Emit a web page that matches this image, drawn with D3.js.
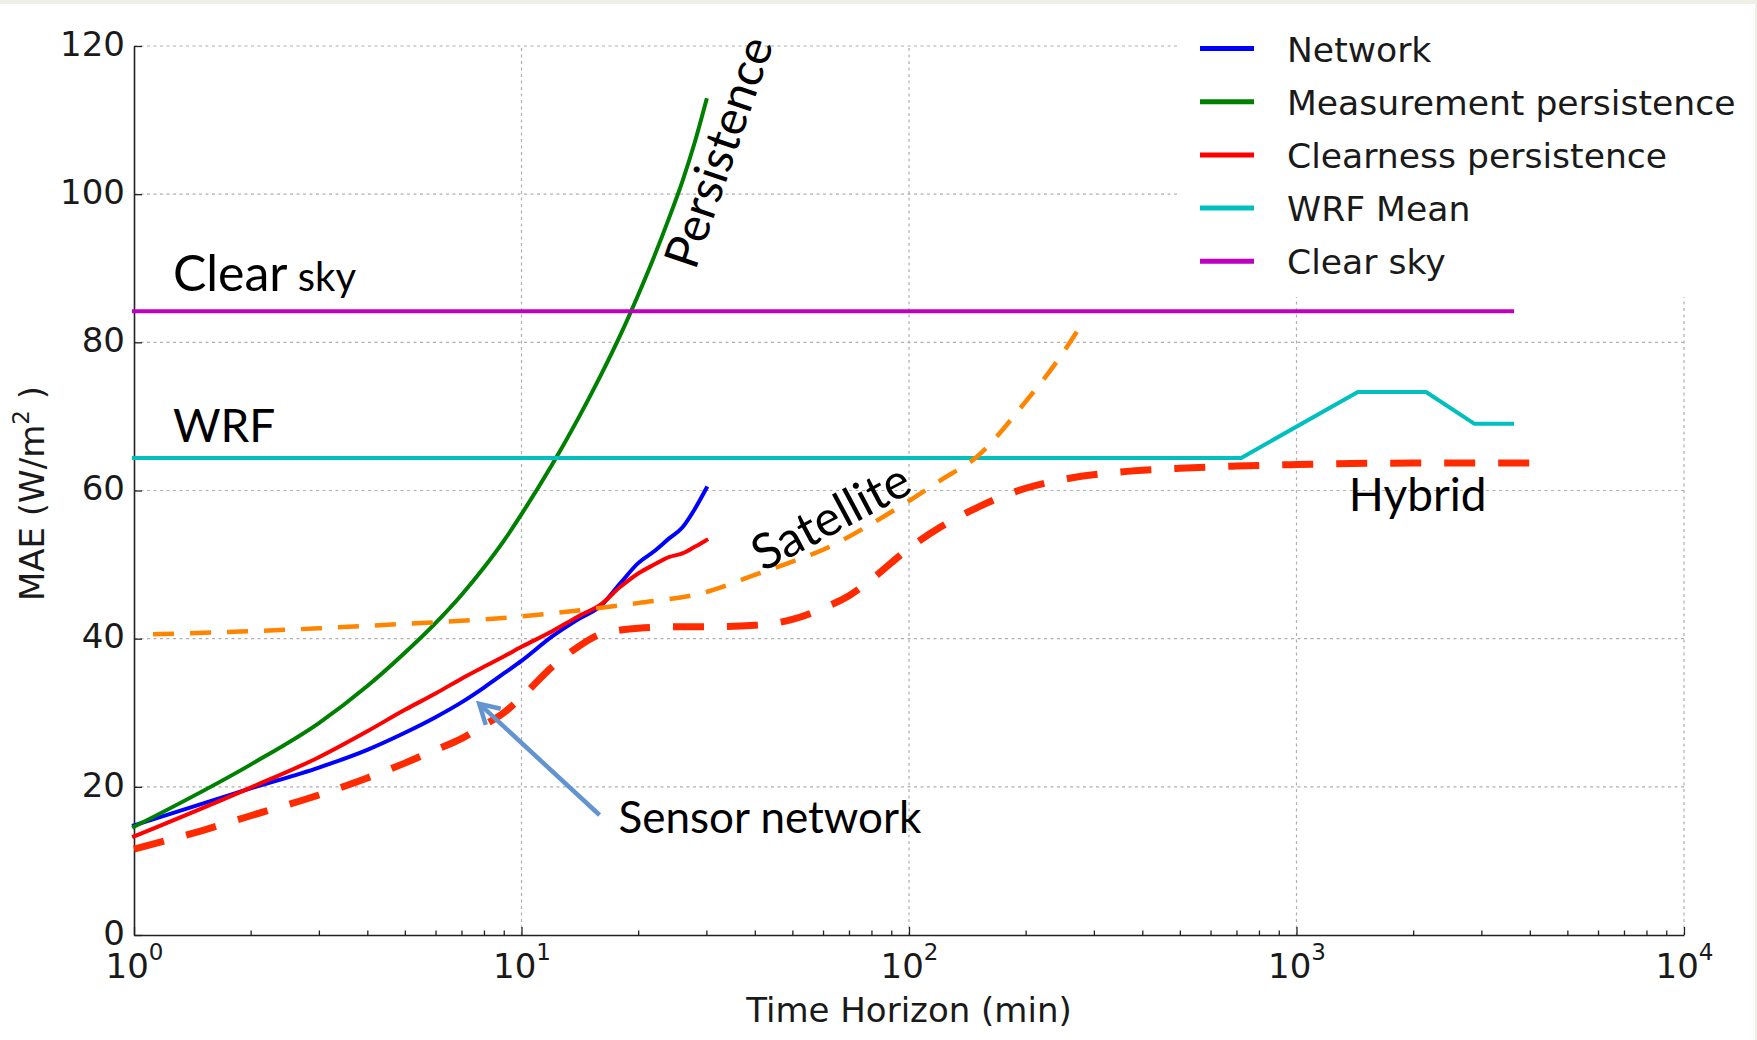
<!DOCTYPE html>
<html>
<head>
<meta charset="utf-8">
<script src="https://cdn.jsdelivr.net/npm/d3@7"></script>
<style>
  html, body { margin: 0; padding: 0; background: #efeee7; }
  svg { display: block; }
</style>
</head>
<body>
<div id="chart"></div>
<script>
// Forecast horizon (min) and MAE (W/m2)
const shortHorizons = [1, 2, 3, 4, 5, 6, 7, 8, 9, 10, 12, 14, 16, 18, 20, 22, 24, 26, 28, 30];
const networkMae = [14.8, 19.8, 22.6, 25.0, 27.3, 29.4, 31.4, 33.4, 35.3, 37.0, 40.3, 42.6, 44.4, 47.5, 50.2, 51.8, 53.5, 55.0, 57.5, 60.3];
const measurementMae = [14.6, 23.0, 28.6, 33.6, 38.1, 42.1, 45.9, 49.6, 53.2, 56.8, 63.5, 69.7, 75.5, 81.0, 86.4, 91.6, 96.7, 101.7, 107.0, 112.7];
const clearnessMae = [13.3, 19.9, 24.0, 27.5, 30.4, 32.6, 34.6, 36.2, 37.6, 38.9, 41.0, 43.0, 44.6, 47.0, 48.8, 50.0, 51.0, 51.5, 52.4, 53.3];

const wrfHorizons = [1, 720, 1440, 2160, 2880, 3600];
const wrfMae = [64.4, 64.4, 73.3, 73.3, 69.0, 69.0];

const clearSkyHorizons = [1, 3600];
const clearSkyMae = [84.2, 84.2];

const satelliteHorizons = [1.12, 2, 3, 5, 8, 10, 15, 20, 30, 40, 50, 60, 80, 100, 120, 150, 200, 240, 277];
const satelliteMae = [40.6, 41.0, 41.4, 42.0, 42.6, 43.0, 44.0, 44.8, 46.3, 48.6, 50.4, 52.0, 55.5, 58.6, 61.3, 64.6, 72.0, 77.3, 82.2];

const hybridHorizons = [1, 1.5, 2, 3, 4, 5, 6, 7, 8, 9, 10, 12, 14, 16, 20, 25, 30, 40, 50, 60, 70, 80, 100, 120, 150, 200, 250, 350, 500, 700, 1000, 2000, 4000];
const hybridMae = [11.6, 14.1, 16.1, 18.9, 21.2, 23.2, 25.0, 26.5, 28.3, 30.0, 32.1, 36.2, 38.9, 40.6, 41.4, 41.6, 41.6, 41.8, 42.6, 44.1, 45.8, 48.0, 52.2, 55.0, 57.7, 60.3, 61.5, 62.5, 63.0, 63.3, 63.5, 63.7, 63.7];

const legendLabels = ["Network", "Measurement persistence", "Clearness persistence", "WRF Mean", "Clear sky"];
const xTickExponents = [0, 1, 2, 3, 4];
const yTicks = [0, 20, 40, 60, 80, 100, 120];

const width = 1757;
const height = 1040;
const tickFont = "'DejaVu Sans', sans-serif";
const noteFont = "Lato, 'Open Sans', sans-serif";

const x = d3.scaleLog().domain([1, 1e4]).range([134, 1684]);
const y = d3.scaleLinear().domain([0, 120]).range([935, 46]);

const svg = d3.select("#chart")
  .append("svg")
  .attr("width", width)
  .attr("height", height);

svg.append("rect")
  .attr("x", 0)
  .attr("y", 4)
  .attr("width", 1755)
  .attr("height", height - 4)
  .attr("fill", "#fff");

// dotted grid
const grid = svg.append("g")
  .attr("stroke", "#b0b0b0")
  .attr("stroke-width", 1.2)
  .attr("stroke-dasharray", "3,3.5");

grid.selectAll(".hgrid")
  .data(yTicks.slice(1))
  .join("line")
  .attr("class", "hgrid")
  .attr("x1", x(1))
  .attr("x2", x(1e4))
  .attr("y1", d => y(d))
  .attr("y2", d => y(d));

grid.selectAll(".vgrid")
  .data(xTickExponents.slice(1).map(e => 10 ** e))
  .join("line")
  .attr("class", "vgrid")
  .attr("x1", d => x(d))
  .attr("x2", d => x(d))
  .attr("y1", y(0))
  .attr("y2", y(120));

// legend sits on a white box that hides the grid behind it
svg.append("rect")
  .attr("x", 1177)
  .attr("y", 8)
  .attr("width", 1755 - 1177)
  .attr("height", 297 - 8)
  .attr("fill", "#fff");

// axes
const decades = xTickExponents.map(e => 10 ** e);
const minorTicks = [];
xTickExponents.slice(0, -1).forEach(e => {
  for (let m = 2; m < 10; m++) minorTicks.push(m * 10 ** e);
});

svg.append("g")
  .attr("transform", `translate(0,${y(0)})`)
  .call(d3.axisBottom(x).tickValues(minorTicks).tickSizeInner(-4.5).tickSizeOuter(0).tickFormat(() => ""))
  .call(g => g.select(".domain").remove())
  .call(g => g.selectAll(".tick line").attr("stroke", "#222").attr("stroke-width", 1.3));

const xAxisG = svg.append("g")
  .attr("transform", `translate(0,${y(0)})`)
  .call(d3.axisBottom(x).tickValues(decades).tickSizeInner(-8).tickSizeOuter(0).tickFormat(() => ""))
  .attr("font-family", tickFont)
  .attr("font-size", 34);

xAxisG.select(".domain").attr("stroke", "#222").attr("stroke-width", 1.6);
xAxisG.selectAll(".tick line").attr("stroke", "#222").attr("stroke-width", 1.3);
xAxisG.selectAll(".tick text")
  .attr("y", 43)
  .attr("dy", null)
  .attr("fill", "#1a1a1a")
  .each(function (d) {
    const t = d3.select(this);
    t.append("tspan").text("10");
    t.append("tspan")
      .attr("dy", -18)
      .attr("font-size", 23)
      .text(Math.round(Math.log10(d)));
  });

const yAxisG = svg.append("g")
  .attr("transform", `translate(${x(1)},0)`)
  .call(d3.axisLeft(y).tickValues(yTicks).tickSizeInner(-8).tickSizeOuter(0).tickPadding(9))
  .attr("font-family", tickFont)
  .attr("font-size", 34);

yAxisG.select(".domain").attr("stroke", "#222").attr("stroke-width", 1.6);
yAxisG.selectAll(".tick line").attr("stroke", "#222").attr("stroke-width", 1.3);
yAxisG.selectAll(".tick text").attr("fill", "#1a1a1a").attr("dy", "0.27em");

// axis titles
svg.append("text")
  .attr("x", (x(1) + x(1e4)) / 2)
  .attr("y", 1022)
  .attr("text-anchor", "middle")
  .attr("font-family", tickFont)
  .attr("font-size", 34)
  .attr("fill", "#1a1a1a")
  .text("Time Horizon (min)");

const yTitle = svg.append("text")
  .attr("transform", `translate(44,${(y(0) + y(120)) / 2 + 3}) rotate(-90)`)
  .attr("text-anchor", "middle")
  .attr("font-family", tickFont)
  .attr("font-size", 34)
  .attr("fill", "#1a1a1a");
yTitle.append("tspan").text("MAE (W/m");
yTitle.append("tspan").attr("dy", -15).attr("font-size", 23).text("2");
yTitle.append("tspan").attr("dy", 15).text(" )");

// curves
const line = d3.line()
  .x(d => x(d[0]))
  .y(d => y(d[1]))
  .curve(d3.curveMonotoneX);

const straight = d3.line()
  .x(d => x(d[0]))
  .y(d => y(d[1]));

const series = [
  { xs: shortHorizons, ys: networkMae, color: "#0000ff", gen: line },
  { xs: shortHorizons, ys: measurementMae, color: "#008000", gen: line },
  { xs: shortHorizons, ys: clearnessMae, color: "#ff0000", gen: line },
  { xs: wrfHorizons, ys: wrfMae, color: "#00bfbf", gen: straight },
  { xs: clearSkyHorizons, ys: clearSkyMae, color: "#bf00bf", gen: straight }
];

svg.append("g")
  .selectAll("path")
  .data(series)
  .join("path")
  .attr("d", s => s.gen(d3.zip(s.xs, s.ys)))
  .attr("fill", "none")
  .attr("stroke", s => s.color)
  .attr("stroke-width", 4)
  .attr("stroke-linecap", "square")
  .attr("stroke-linejoin", "round");

// the two dashed overlays
svg.append("path")
  .attr("d", line(d3.zip(satelliteHorizons, satelliteMae)))
  .attr("fill", "none")
  .attr("stroke", "#ff8500")
  .attr("stroke-width", 4.5)
  .attr("stroke-dasharray", "21,16");

svg.append("path")
  .attr("d", line(d3.zip(hybridHorizons, hybridMae)))
  .attr("fill", "none")
  .attr("stroke", "#ff2a00")
  .attr("stroke-width", 7)
  .attr("stroke-dasharray", "31,23");

// legend
const legend = svg.append("g")
  .selectAll("g")
  .data(legendLabels)
  .join("g")
  .attr("transform", (d, i) => `translate(1200,${48.5 + i * 53.2})`);

legend.append("line")
  .attr("x1", 0)
  .attr("x2", 54)
  .attr("stroke", (d, i) => series[i].color)
  .attr("stroke-width", 5);

legend.append("text")
  .attr("x", 87)
  .attr("y", 13)
  .attr("font-family", tickFont)
  .attr("font-size", 34.6)
  .attr("fill", "#1a1a1a")
  .text(d => d);

// hand-written labels and the arrow
const notes = svg.append("g")
  .attr("font-family", noteFont)
  .attr("fill", "#000");

const clearSkyNote = notes.append("text")
  .attr("x", x(1.26))
  .attr("y", y(86.9));
clearSkyNote.append("tspan").attr("font-size", 50).text("Clear");
clearSkyNote.append("tspan").attr("font-size", 40).text(" sky");

notes.append("text")
  .attr("x", x(1.26))
  .attr("y", y(66.5))
  .attr("font-size", 46)
  .text("WRF");

notes.append("text")
  .attr("transform", `translate(${x(28.1)},${y(89.6)}) rotate(-71)`)
  .attr("font-size", 48)
  .text("Persistence");

notes.append("text")
  .attr("transform", `translate(${x(42)},${y(49)}) rotate(-28)`)
  .attr("font-size", 49)
  .text("Satellite");

notes.append("text")
  .attr("x", x(1365))
  .attr("y", y(57.3))
  .attr("font-size", 46)
  .text("Hybrid");

notes.append("text")
  .attr("x", x(17.8))
  .attr("y", y(13.8))
  .attr("font-size", 44)
  .text("Sensor network");

const tail = [x(15.9), y(16.2)];
const tip = [x(7.78), y(31.2)];
const ang = Math.atan2(tail[1] - tip[1], tail[0] - tip[0]);
const head = 22;
const spread = Math.PI / 6;

const arrow = svg.append("g")
  .attr("stroke", "#6394cf")
  .attr("stroke-width", 4.5)
  .attr("fill", "none");

arrow.append("line")
  .attr("x1", tail[0])
  .attr("y1", tail[1])
  .attr("x2", tip[0] + 2 * Math.cos(ang))
  .attr("y2", tip[1] + 2 * Math.sin(ang));

arrow.append("path")
  .attr("stroke-linejoin", "miter")
  .attr("d", d3.line()([
    [tip[0] + head * Math.cos(ang - spread), tip[1] + head * Math.sin(ang - spread)],
    tip,
    [tip[0] + head * Math.cos(ang + spread), tip[1] + head * Math.sin(ang + spread)]
  ]));
</script>
</body>
</html>
